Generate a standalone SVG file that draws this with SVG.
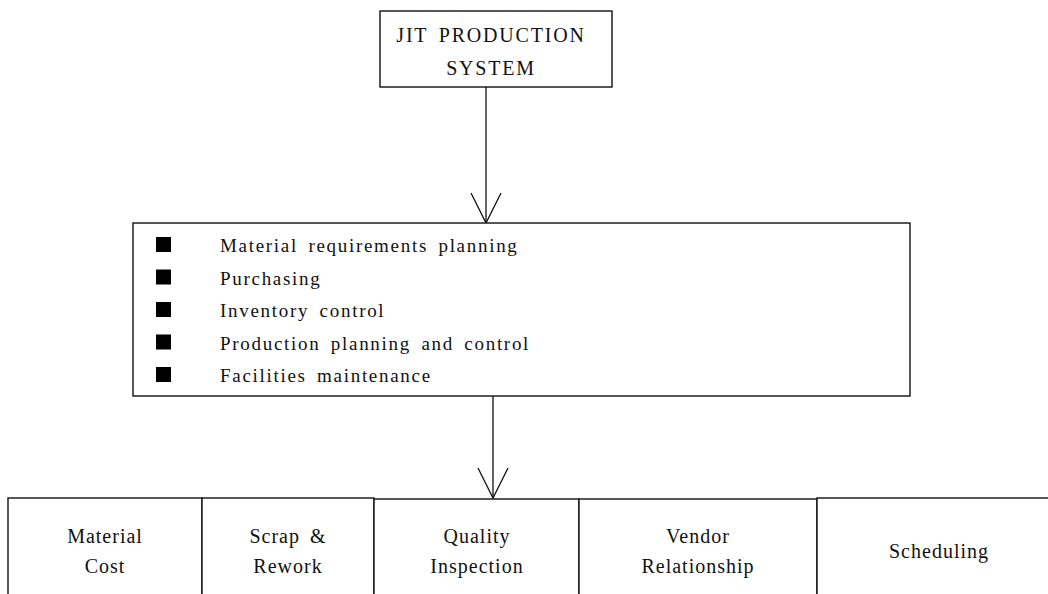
<svg xmlns="http://www.w3.org/2000/svg" width="1048" height="594" viewBox="0 0 1048 594" font-family="Liberation Serif, Times New Roman, serif">
<style>
.box{fill:#fff;stroke:#111;stroke-width:1.4}
.t{font-size:20px;fill:#111;letter-spacing:1.8px}
.c{text-anchor:middle}
.b{font-size:20px;letter-spacing:1px}
.li{font-size:19px;letter-spacing:1.7px;word-spacing:4px}
.bul{fill:#000}
.edge{stroke:#111;stroke-width:1.3;fill:none}
</style>
<defs>
<marker id="v" markerUnits="userSpaceOnUse" markerWidth="34" markerHeight="34" refX="30" refY="15" orient="auto" viewBox="-2 -2 34 34">
<path d="M0,0 L30,15 L0,30" fill="none" stroke="#111" stroke-width="1.3"/>
</marker>
</defs>
<g id="connectors">
<line class="edge" x1="486" y1="87" x2="486" y2="223" marker-end="url(#v)"/>
<line class="edge" x1="493" y1="396" x2="493" y2="498" marker-end="url(#v)"/>
</g>
<g id="jit">
<rect class="box" x="380" y="11" width="232" height="76"/>
<text class="t c" x="491" y="42" word-spacing="4">JIT PRODUCTION</text>
<text class="t c" x="491" y="75">SYSTEM</text>
</g>
<g id="functions">
<rect class="box" x="133" y="223" width="777" height="173"/>
<rect class="bul" x="156" y="237" width="15" height="15"/>
<rect class="bul" x="156" y="269.5" width="15" height="15"/>
<rect class="bul" x="156" y="302" width="15" height="15"/>
<rect class="bul" x="156" y="334.5" width="15" height="15"/>
<rect class="bul" x="156" y="367" width="15" height="15"/>
<text class="t li" x="220" y="252">Material requirements planning</text>
<text class="t li" x="220" y="284.5">Purchasing</text>
<text class="t li" x="220" y="317">Inventory control</text>
<text class="t li" x="220" y="349.5">Production planning and control</text>
<text class="t li" x="220" y="382">Facilities maintenance</text>
</g>
<g id="material-cost">
<rect class="box" x="8" y="498" width="194" height="110"/>
<text class="t b c" x="105" y="543">Material</text>
<text class="t b c" x="105" y="573">Cost</text>
</g>
<g id="scrap-rework">
<rect class="box" x="202" y="498" width="172" height="110"/>
<text class="t b c" x="288" y="543" word-spacing="4">Scrap &amp;</text>
<text class="t b c" x="288" y="573">Rework</text>
</g>
<g id="quality-inspection">
<rect class="box" x="374" y="499" width="205" height="110"/>
<text class="t b c" x="477" y="543">Quality</text>
<text class="t b c" x="477" y="573">Inspection</text>
</g>
<g id="vendor-relationship">
<rect class="box" x="579" y="499" width="238" height="110"/>
<text class="t b c" x="698" y="543">Vendor</text>
<text class="t b c" x="698" y="573">Relationship</text>
</g>
<g id="scheduling">
<rect class="box" x="817" y="498" width="245" height="110"/>
<text class="t b c" x="939" y="558">Scheduling</text>
</g>
</svg>
